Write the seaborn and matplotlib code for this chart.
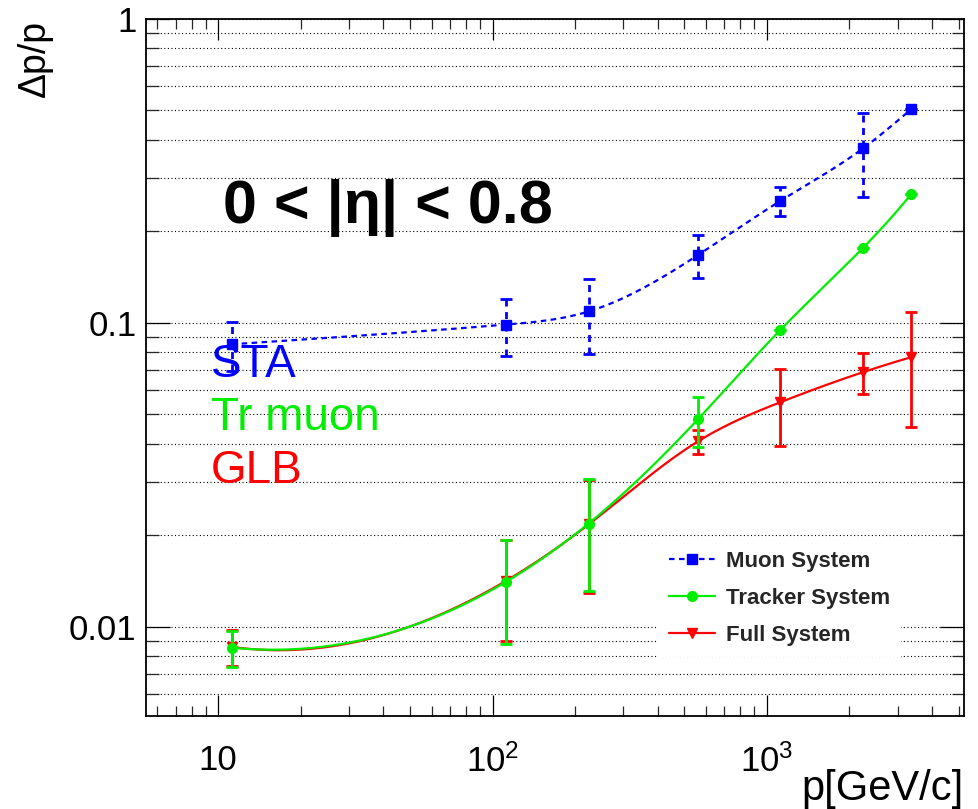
import numpy as np
import pandas as pd
import matplotlib
matplotlib.use("Agg")
import matplotlib.pyplot as plt
import seaborn as sns
from matplotlib.lines import Line2D
from matplotlib.ticker import LogLocator, NullFormatter

# ---------------- data ----------------
p_values = [11.2, 112, 224, 560, 1120, 2240, 3360]

muon_res = [0.085, 0.0987, 0.109, 0.167, 0.252, 0.375, 0.505]
muon_err = [0.0157, 0.021, 0.030, 0.027, 0.028, 0.116, 0.0]

tracker_res = [0.00853, 0.01405, 0.02185, 0.0481, 0.0948, 0.1764, 0.2655]
tracker_err = [0.00117, 0.0053, 0.0087, 0.0091, 0.0, 0.0, 0.0]

full_res = [0.00858, 0.01415, 0.0217, 0.0407, 0.0548, 0.0688, 0.0771]
full_err = [0.00117, 0.0052, 0.0088, 0.0036, 0.0155, 0.0107, 0.0316]

series_names = ["Muon System", "Tracker System", "Full System"]
region_text = "0 < |η| < 0.8"
reco_labels = ["STA", "Tr muon", "GLB"]
xtick_vals = [10, 100, 1000]
xtick_labels = ["10", r"$\mathregular{10^{2}}$", r"$\mathregular{10^{3}}$"]
ytick_vals = [0.01, 0.1, 1]
ytick_labels = ["0.01", "0.1", "1"]

BLUE = "#0000ff"
GREEN = "#00ee00"
RED = "#ff0000"

# ---------------- style ----------------
sns.set_theme(style="ticks")
plt.rcParams["font.family"] = ["Liberation Sans", "DejaVu Sans"]
plt.rcParams["mathtext.fontset"] = "custom"
plt.rcParams["mathtext.rm"] = "Liberation Sans"
plt.rcParams["mathtext.it"] = "Liberation Sans:italic"
plt.rcParams["mathtext.bf"] = "Liberation Sans:bold"


def smooth_curve(x, y, ends="notaknot", n=300):
    """Cubic spline through the points in log-log space (like ROOT's 'C' option)."""
    lx = np.log10(np.asarray(x, float))
    ly = np.log10(np.asarray(y, float))
    m = len(lx)
    h = np.diff(lx)
    A = np.zeros((m, m))
    r = np.zeros(m)
    if ends == "natural":
        A[0, 0] = 1.0
        A[-1, -1] = 1.0
    else:
        A[0, 0], A[0, 1], A[0, 2] = h[1], -(h[0] + h[1]), h[0]
        A[-1, -3], A[-1, -2], A[-1, -1] = h[-1], -(h[-2] + h[-1]), h[-2]
    for i in range(1, m - 1):
        A[i, i - 1] = h[i - 1]
        A[i, i] = 2 * (h[i - 1] + h[i])
        A[i, i + 1] = h[i]
        r[i] = 3 * ((ly[i + 1] - ly[i]) / h[i] - (ly[i] - ly[i - 1]) / h[i - 1])
    c = np.linalg.solve(A, r)
    b = (ly[1:] - ly[:-1]) / h - h * (2 * c[:-1] + c[1:]) / 3
    d = (c[1:] - c[:-1]) / (3 * h)
    xs = np.linspace(lx[0], lx[-1], n)
    idx = np.clip(np.searchsorted(lx, xs) - 1, 0, m - 2)
    dx = xs - lx[idx]
    ys = ly[idx] + b[idx] * dx + c[idx] * dx ** 2 + d[idx] * dx ** 3
    return 10 ** xs, 10 ** ys


fig = plt.figure(figsize=(9.79, 8.09), dpi=100)
ax = fig.add_axes([0.1496, 0.1149, 0.8351, 0.8616])
ax.set_xscale("log")
ax.set_yscale("log")

lw = 1.6
dash = (0, (2.5, 2))
series = [
    (full_res, full_err, RED, "-", "v", 2, "notaknot"),
    (tracker_res, tracker_err, GREEN, "-", "o", 3, "notaknot"),
    (muon_res, muon_err, BLUE, dash, "s", 4, "natural"),
]
for vals, errs, col, ls, mk, z, ends in series:
    sx, sy = smooth_curve(p_values, vals, ends=ends)
    df = pd.DataFrame({"p": sx, "res": sy})
    sns.lineplot(data=df, x="p", y="res", ax=ax, color=col, lw=lw,
                 linestyle=ls, sort=False, estimator=None, zorder=z)
    eb = ax.errorbar(p_values, vals, yerr=errs, fmt=mk, color=col, ms=7,
                     mec=col, mfc=col, elinewidth=2.0, capsize=4.5,
                     capthick=2.0, zorder=z + 0.1)
    if mk == "s":
        for coll in eb[2]:
            coll.set_linestyle(dash)

# grid (horizontal dotted, major + minor)
ax.grid(False)
ax.yaxis.grid(True, which="both", linestyle=(0, (1, 2.2)), color="black",
              lw=0.8, zorder=0)
ax.set_axisbelow(True)

# ticks
ax.set_xticks(xtick_vals)
ax.set_xticklabels(xtick_labels)
ax.xaxis.set_minor_locator(LogLocator(base=10, subs=np.arange(2, 10), numticks=20))
ax.xaxis.set_minor_formatter(NullFormatter())
ax.set_yticks(ytick_vals)
ax.set_yticklabels(ytick_labels)
ax.yaxis.set_minor_locator(LogLocator(base=10, subs=np.arange(2, 10), numticks=20))
ax.yaxis.set_minor_formatter(NullFormatter())
ax.set_xlim(5.48, 5230)
ax.set_ylim(0.00508, 1.0)

ax.tick_params(axis="x", which="major", direction="in", length=15, width=0.9,
               top=True, bottom=True, labelsize=25, pad=20, colors="black")
ax.tick_params(axis="x", which="minor", direction="in", length=7.5, width=0.9,
               top=True, bottom=True)
ax.tick_params(axis="y", which="major", direction="in", length=17, width=0.9,
               left=True, right=True, labelsize=25, pad=7, colors="black")
ax.tick_params(axis="y", which="minor", direction="in", length=9, width=0.9,
               left=True, right=True)
for s in ax.spines.values():
    s.set_linewidth(1.3)
    s.set_color("black")

# axis titles
ax.set_xlabel("p[GeV/c]", fontsize=30, color="black")
ax.xaxis.label.set_ha("right")
ax.xaxis.label.set_va("baseline")
ax.xaxis.set_label_coords(1.0, -0.1205)
ax.set_ylabel("Δp/p", fontsize=27, color="black")
ax.yaxis.label.set_ha("right")
ax.yaxis.label.set_va("bottom")
ax.yaxis.set_label_coords(-0.1144, 0.9986)

# annotations
ax.text(0.0936, 0.7073, region_text, transform=ax.transAxes, fontsize=44,
        fontweight="bold", color="black", ha="left", va="baseline", zorder=6)
for lab, col, yy in zip(reco_labels, [BLUE, GREEN, RED], [0.486, 0.410, 0.334]):
    ax.text(0.079, yy, lab, transform=ax.transAxes, fontsize=33, color=col,
            ha="left", va="baseline", zorder=6)

# legend
handles = [
    Line2D([], [], color=BLUE, lw=lw, linestyle=dash, marker="s", ms=7),
    Line2D([], [], color=GREEN, lw=lw, marker="o", ms=7),
    Line2D([], [], color=RED, lw=lw, marker="v", ms=7),
]
leg = ax.legend(handles, series_names, loc="upper left",
                bbox_to_anchor=(0.6257, 0.2525), bbox_transform=ax.transAxes,
                borderaxespad=0, frameon=True, fancybox=False, framealpha=1,
                facecolor="white", edgecolor="none", borderpad=0.5,
                handlelength=2.05, handletextpad=0.5, labelspacing=0.72,
                prop={"weight": "bold", "size": 16})
leg.set_zorder(7)

fig.savefig("out.png", dpi=100)
